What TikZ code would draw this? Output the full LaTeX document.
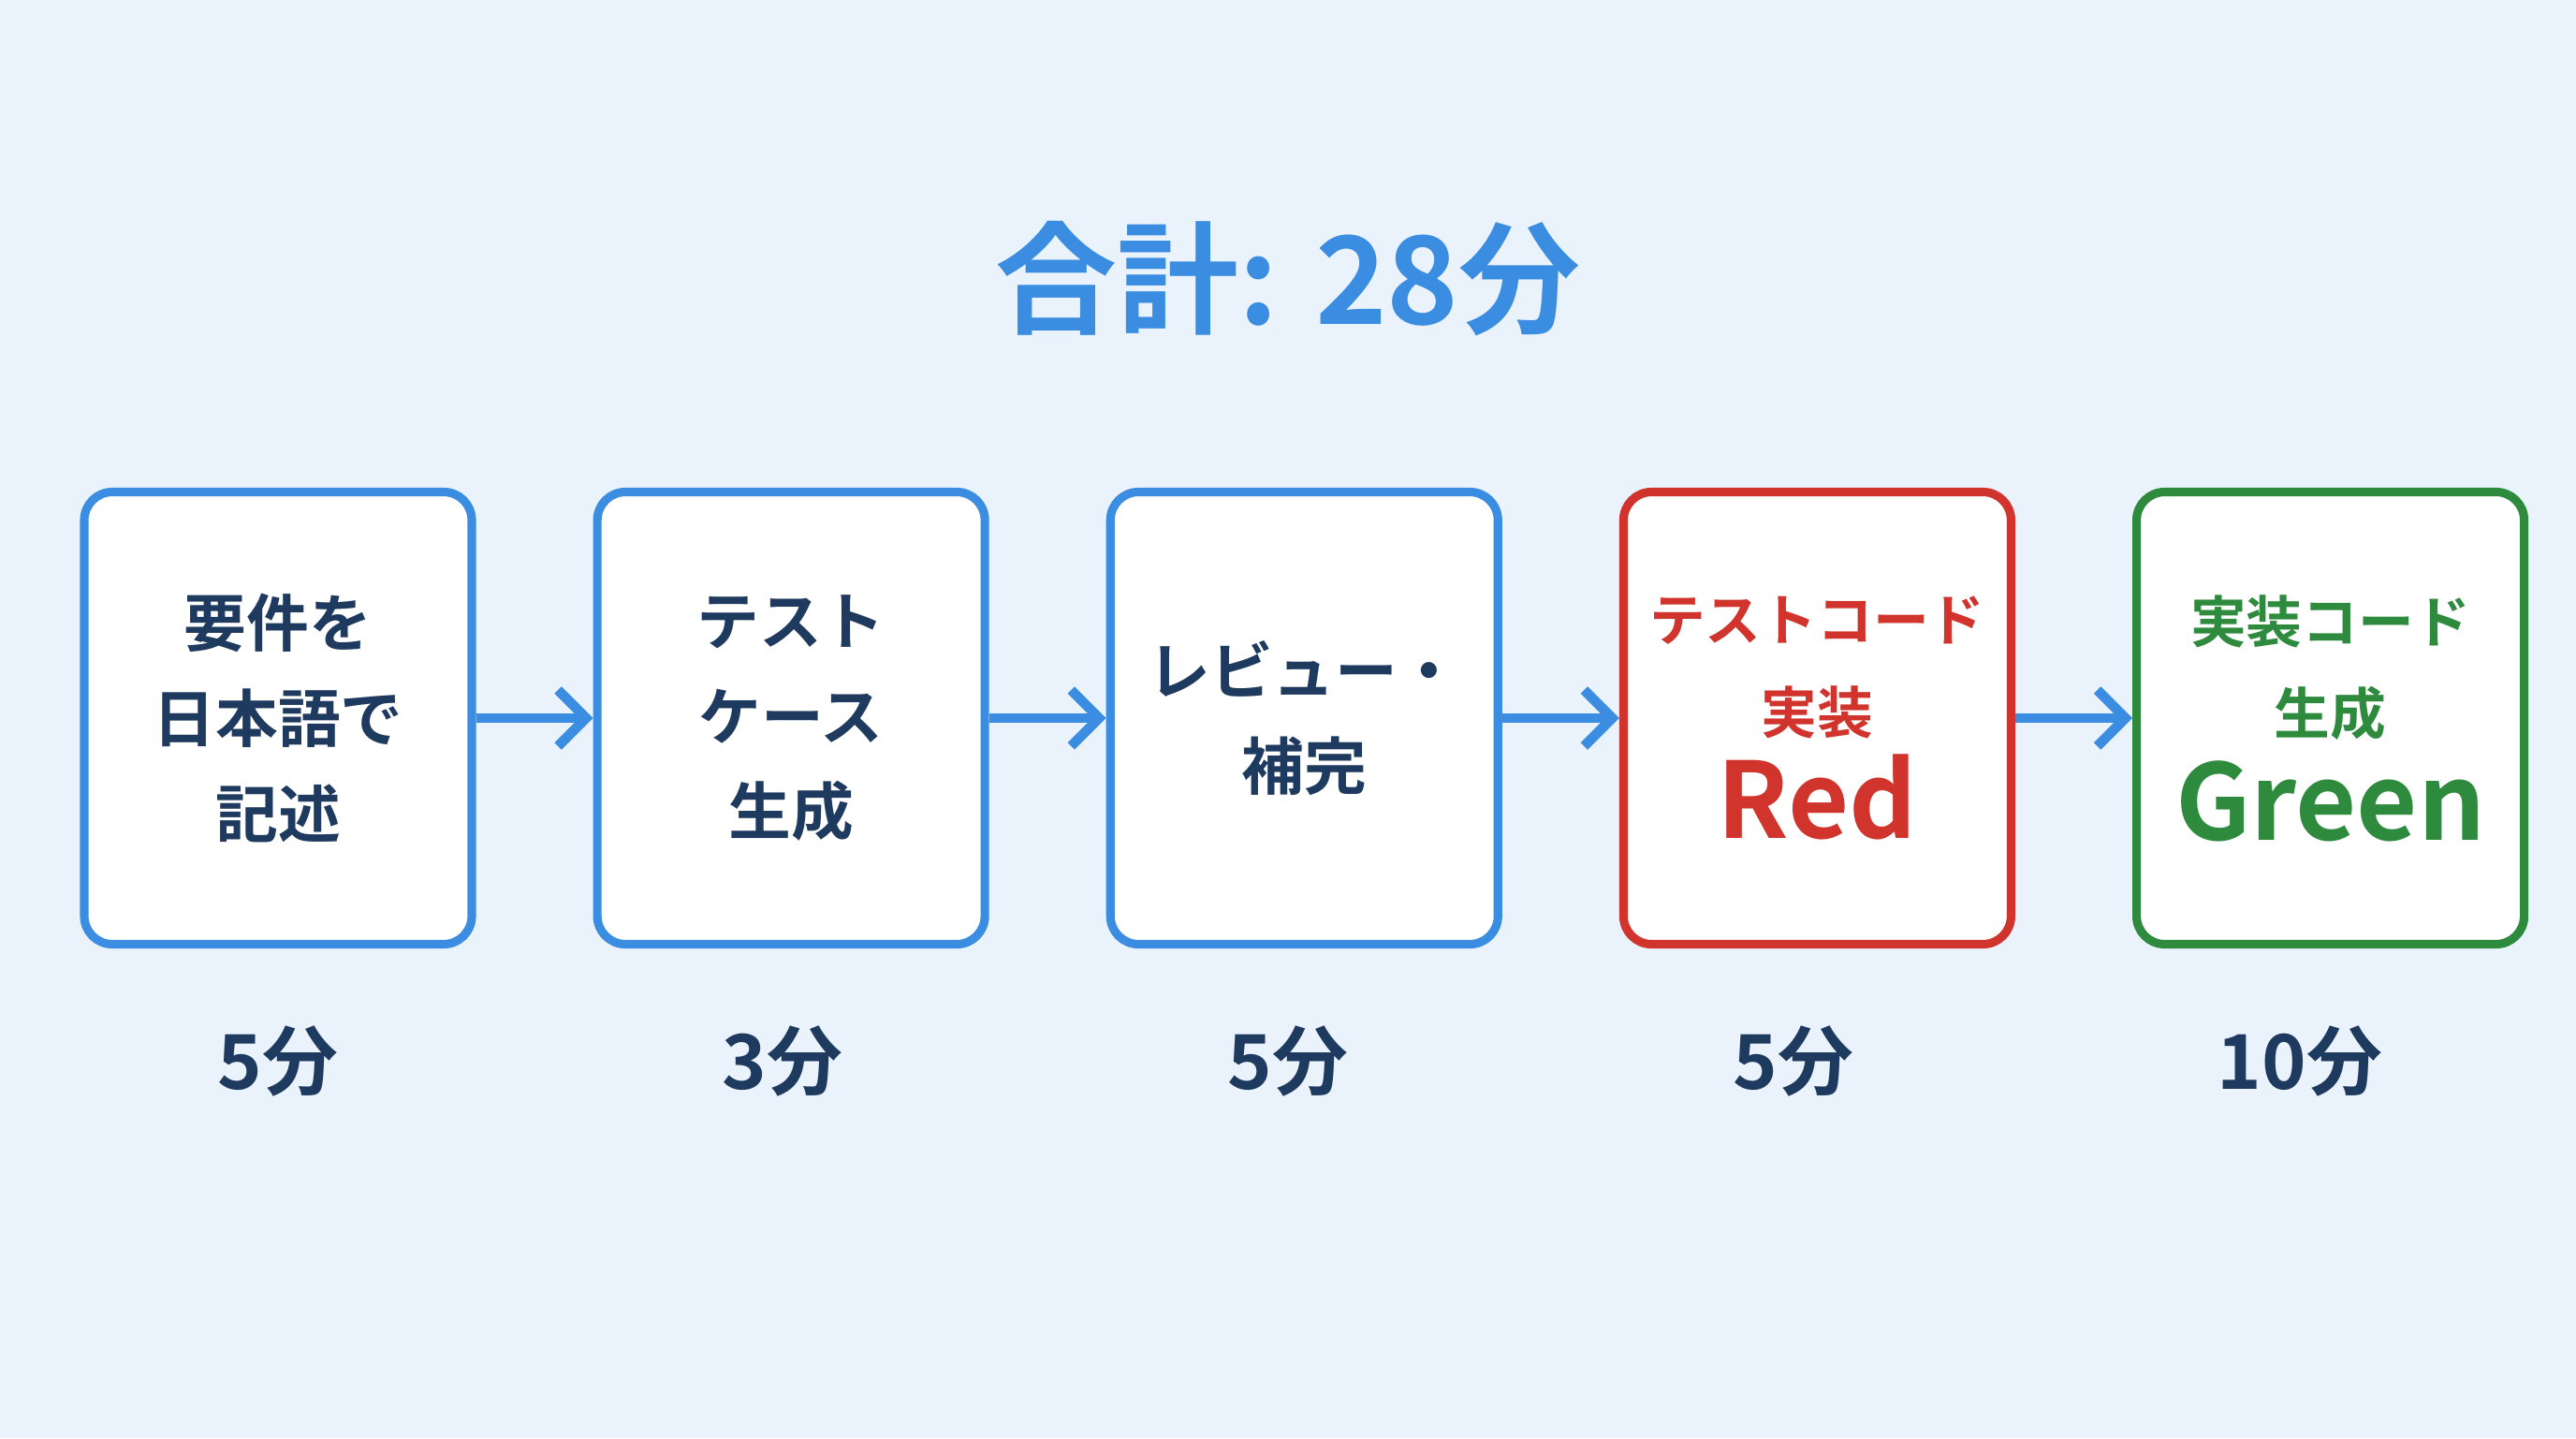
\documentclass[tikz,border=0pt]{standalone}
\usepackage{fontspec}
\setmainfont{Noto Sans CJK JP}[BoldFont={Noto Sans CJK JP Bold}]
\usetikzlibrary{arrows.meta,positioning}
\definecolor{bgblue}{HTML}{EAF3FC}
\definecolor{stepblue}{HTML}{3A8DE0}
\definecolor{navy}{HTML}{1F3A5F}
\definecolor{redstep}{HTML}{D0342C}
\definecolor{greenstep}{HTML}{2E8B3E}

\begin{document}
\begin{tikzpicture}[
        node distance=1.25cm,
        every node/.style={align=center, font=\bfseries},
        stage/.style={draw=stepblue, line width=2.6pt, rounded corners=0.3cm, fill=white,
            inner sep=0pt, text width=4.0cm,
            minimum width=4.14cm, minimum height=4.83cm, text=navy, font=\fontsize{19}{29}\bfseries},
        time/.style={text=navy, font=\fontsize{23}{28}\bfseries},
        flow/.style={-{Straight Barb[length=0.3cm,width=0.6cm]}, draw=stepblue, line width=3pt}
    ]
    \fill[bgblue] (0,0) rectangle (27.52,-15.36);
    \useasboundingbox (0,0) rectangle (27.52,-15.36);

    % Title
    \node (total) at (13.76,-2.98) [text=stepblue, font=\fontsize{37}{42}\bfseries] {合計: 28分};

    % Stages
    \node (req) at (2.97,-7.67) [stage] {要件を\\日本語で\\記述};
    \node (case)[right=of req, stage] {テスト\\ケース\\生成};
    \node (review)[right=of case, stage] {レビュー・\\補完};
    \node (red)[right=of review, stage, draw=redstep, text=redstep, font=\fontsize{17}{28}\bfseries]
        {テストコード\\実装\\[4pt]{\fontsize{32}{34}\selectfont Red}};
    \node (green)[right=of red, stage, draw=greenstep, text=greenstep, font=\fontsize{17}{28}\bfseries]
        {実装コード\\生成\\[4pt]{\fontsize{32}{34}\selectfont Green}};

    % Times
    \node (t1) at (2.97,-11.33) [time] {5分};
    \node (t2) at (8.36,-11.33) [time] {3分};
    \node (t3) at (13.76,-11.33) [time] {5分};
    \node (t4) at (19.16,-11.33) [time] {5分};
    \node (t5) at (24.57,-11.33) [time] {10分};

    % Edges
    \draw[flow] (req) -- (case);
    \draw[flow] (case) -- (review);
    \draw[flow] (review) -- (red);
    \draw[flow] (red) -- (green);
\end{tikzpicture}
\end{document}
